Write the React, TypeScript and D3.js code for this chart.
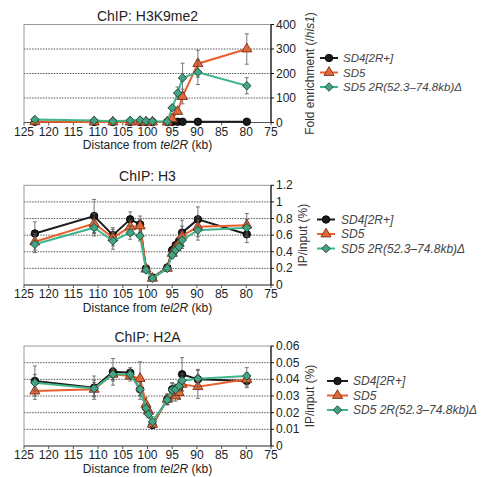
import React from "react";
import * as d3 from "d3";

// ---------- DATA ----------
const seriesNames = ["SD4[2R+]", "SD5", "SD5 2R(52.3–74.8kb)Δ"];
const xTicks = [125, 120, 115, 110, 105, 100, 95, 90, 85, 80, 75];

// Panel 1: H3K9me2
const kbK9 = [122.8, 110.8, 107, 103.5, 101.5, 100.3, 99, 96, 95, 93.9, 92.9, 89.8, 79.9];
const k9Black = [3, 2, 2, 2, 2, 2, 2, 2, 2, 3, 3, 3, 3];
const k9Orange = [3, 2, 2, 2, 2, 2, 2, 2, 15, 45, 106, 240, 300];
const k9Green = [12, 8, 5, 8, 10, 6, 5, 4, 60, 120, 182, 205, 150];
const k9BlackErr = [2, 2, 2, 2, 2, 2, 2, 2, 2, 2, 2, 2, 2];
const k9OrangeErr = [3, 2, 2, 2, 2, 2, 2, 2, 5, 10, 30, 55, 62];
const k9GreenErr = [5, 3, 3, 3, 3, 3, 3, 2, 10, 25, 60, 50, 33];
const k9Ticks = [0, 100, 200, 300, 400];

// Panel 2: H3
const kbH3 = [122.8, 110.8, 107, 103.5, 101.5, 100.3, 99, 96, 95, 94.3, 93.6, 93, 89.8, 79.9];
const h3Black = [0.62, 0.83, 0.6, 0.79, 0.73, 0.2, 0.09, 0.21, 0.42, 0.48, 0.53, 0.63, 0.79, 0.61];
const h3Orange = [0.52, 0.74, 0.57, 0.7, 0.71, 0.19, 0.08, 0.2, 0.38, 0.45, 0.5, 0.59, 0.7, 0.72];
const h3Green = [0.49, 0.69, 0.53, 0.63, 0.59, 0.18, 0.08, 0.2, 0.36, 0.42, 0.46, 0.54, 0.66, 0.69];
const h3BlackErr = [0.14, 0.2, 0.09, 0.09, 0.1, 0.03, 0.02, 0.03, 0.04, 0.04, 0.05, 0.15, 0.15, 0.1];
const h3OrangeErr = [0.1, 0.12, 0.1, 0.08, 0.08, 0.02, 0.02, 0.03, 0.04, 0.04, 0.05, 0.12, 0.12, 0.14];
const h3GreenErr = [0.1, 0.1, 0.1, 0.08, 0.06, 0.02, 0.02, 0.03, 0.04, 0.04, 0.04, 0.1, 0.12, 0.1];
const h3Ticks = [0, 0.2, 0.4, 0.6, 0.8, 1, 1.2];

// Panel 3: H2A
const kbH2A = [122.8, 110.8, 107, 103.5, 101.5, 100.3, 99.8, 99, 96, 95, 94.3, 93.6, 93, 89.8, 79.9];
const h2aBlack = [0.039, 0.035, 0.0445, 0.044, 0.034, 0.023, 0.02, 0.0126, 0.028, 0.034, 0.034, 0.035, 0.043, 0.04, 0.039];
const h2aOrange = [0.033, 0.034, 0.043, 0.042, 0.0405, 0.025, 0.021, 0.013, 0.028, 0.031, 0.03, 0.032, 0.037, 0.0356, 0.04];
const h2aGreen = [0.038, 0.0345, 0.043, 0.043, 0.034, 0.0226, 0.019, 0.0146, 0.0276, 0.0336, 0.034, 0.036, 0.0392, 0.0404, 0.042];
const h2aBlackErr = [0.009, 0.007, 0.008, 0.003, 0.006, 0.003, 0.002, 0.002, 0.003, 0.004, 0.003, 0.003, 0.01, 0.006, 0.004];
const h2aOrangeErr = [0.005, 0.004, 0.004, 0.003, 0.01, 0.004, 0.002, 0.002, 0.003, 0.004, 0.003, 0.004, 0.004, 0.007, 0.004];
const h2aGreenErr = [0.005, 0.005, 0.003, 0.003, 0.004, 0.003, 0.002, 0.003, 0.003, 0.004, 0.003, 0.003, 0.004, 0.005, 0.005];
const h2aTicks = [0, 0.01, 0.02, 0.03, 0.04, 0.05, 0.06];

// ---------- STYLE ----------
const FONT = "'Liberation Sans', Arial, sans-serif";
const styles = [
  { line: "#1c1c1c", fill: "#1c1c1c", stroke: "#000", shape: "circle" },
  { line: "#e8602c", fill: "#e0693a", stroke: "#7a3015", shape: "triangle" },
  { line: "#3fb58c", fill: "#45a283", stroke: "#1d4a3a", shape: "diamond" },
];

function symbolPath(shape: string) {
  if (shape === "circle") return d3.symbol(d3.symbolCircle, 44)()!;
  if (shape === "triangle") return d3.symbol(d3.symbolTriangle, 44)()!;
  return d3.symbol(d3.symbolSquare, 36)()!;
}

function Marker({ x, y, i }: { x: number; y: number; i: number }) {
  const s = styles[i];
  const rot = s.shape === "diamond" ? " rotate(45)" : "";
  return (
    <path
      d={symbolPath(s.shape)}
      transform={`translate(${x},${y})${rot}`}
      fill={s.fill}
      stroke={s.stroke}
      strokeWidth={0.9}
    />
  );
}

type PanelProps = {
  title: string;
  top: number;
  bottom: number;
  kb: number[];
  values: number[][];
  errs: number[][];
  ticks: number[];
  yLabel: React.ReactNode;
  yLabelX: number;
  legendY: number;
  legendX0: number;
  legendX1: number;
  legendTextX: number;
  legendFont: number;
  fmt: (v: number) => string;
};

const X0 = 24;
const X1 = 271;

function Panel(p: PanelProps) {
  const x = d3.scaleLinear().domain([125, 75]).range([X0, X1]);
  const yMax = p.ticks[p.ticks.length - 1];
  const y = d3.scaleLinear().domain([0, yMax]).range([p.bottom, p.top]);
  const line = d3
    .line<number>()
    .x((_, j) => x(p.kb[j]))
    .y((v) => y(v));
  const yMid = (p.top + p.bottom) / 2;
  return (
    <g>
      <text x={(X0 + X1) / 2} y={p.top - 4} textAnchor="middle" fontSize={14} fontFamily={FONT} fill="#222">
        {p.title}
      </text>
      {/* grid */}
      {p.ticks.slice(1, -1).map((t) => (
        <line key={t} x1={X0} x2={X1} y1={y(t)} y2={y(t)} stroke="#444" strokeWidth={0.9} strokeDasharray="1.5,1.2" />
      ))}
      {/* frame */}
      <rect x={X0} y={p.top} width={X1 - X0} height={p.bottom - p.top} fill="none" stroke="#999" strokeWidth={1} />
      <line x1={X0} x2={X1} y1={p.bottom} y2={p.bottom} stroke="#555" strokeWidth={1} />
      <line x1={X1} x2={X1} y1={p.top} y2={p.bottom} stroke="#111" strokeWidth={1.2} />
      {/* x ticks */}
      {xTicks.map((t) => (
        <g key={t}>
          <line x1={x(t)} x2={x(t)} y1={p.bottom} y2={p.bottom + 3} stroke="#555" />
          <text x={x(t)} y={p.bottom + 13} textAnchor="middle" fontSize={12} fontFamily={FONT} fill="#222">
            {t}
          </text>
        </g>
      ))}
      <text x={(X0 + X1) / 2} y={p.bottom + 26.5} textAnchor="middle" fontSize={12} fontFamily={FONT} fill="#222">
        Distance from <tspan fontStyle="italic">tel2R</tspan> (kb)
      </text>
      {/* y ticks */}
      {p.ticks.map((t) => (
        <g key={t}>
          <line x1={X1} x2={X1 + 3} y1={y(t)} y2={y(t)} stroke="#111" />
          <text x={X1 + 5} y={y(t) + 4} fontSize={12} fontFamily={FONT} fill="#222">
            {p.fmt(t)}
          </text>
        </g>
      ))}
      <text
        transform={`translate(${p.yLabelX},${yMid}) rotate(-90)`}
        textAnchor="middle"
        fontSize={12}
        fontFamily={FONT}
        fill="#333"
      >
        {p.yLabel}
      </text>
      {/* series */}
      {p.values.map((vals, i) => (
        <g key={i}>
          {vals.map((v, j) => {
            const e = p.errs[i][j];
            const cx = x(p.kb[j]);
            return (
              <g key={j} stroke="#555" strokeWidth={0.8}>
                <line x1={cx} x2={cx} y1={y(v - e)} y2={y(v + e)} />
                <line x1={cx - 2} x2={cx + 2} y1={y(v - e)} y2={y(v - e)} />
                <line x1={cx - 2} x2={cx + 2} y1={y(v + e)} y2={y(v + e)} />
              </g>
            );
          })}
          <path d={line(vals)!} fill="none" stroke={styles[i].line} strokeWidth={2} />
          {vals.map((v, j) => (
            <Marker key={j} x={x(p.kb[j])} y={y(v)} i={i} />
          ))}
        </g>
      ))}
      {/* legend */}
      {seriesNames.map((name, i) => {
        const ly = p.legendY + i * 14.5;
        return (
          <g key={name}>
            <line x1={p.legendX0} x2={p.legendX1} y1={ly} y2={ly} stroke={styles[i].line} strokeWidth={2} />
            <Marker x={(p.legendX0 + p.legendX1) / 2} y={ly} i={i} />
            <text x={p.legendTextX} y={ly + 4} fontSize={p.legendFont} fontStyle="italic" fontFamily={FONT} fill="#444">
              {name}
            </text>
          </g>
        );
      })}
    </g>
  );
}

export default function App() {
  return (
    <svg
      width={481}
      height={477}
      style={{ position: "absolute", left: 0, top: 0, background: "#fff" }}
    >
      <rect width={481} height={477} fill="#fff" />
      <Panel
        title="ChIP: H3K9me2"
        top={24.5}
        bottom={122.5}
        kb={kbK9}
        values={[k9Black, k9Orange, k9Green]}
        errs={[k9BlackErr, k9OrangeErr, k9GreenErr]}
        ticks={k9Ticks}
        yLabel={
          <>
            Fold enrichment (/<tspan fontStyle="italic">his1</tspan>)
          </>
        }
        yLabelX={314}
        legendY={58}
        legendX0={320}
        legendX1={338}
        legendTextX={343}
        legendFont={11.5}
        fmt={(v) => String(v)}
      />
      <Panel
        title="ChIP: H3"
        top={185.3}
        bottom={285}
        kb={kbH3}
        values={[h3Black, h3Orange, h3Green]}
        errs={[h3BlackErr, h3OrangeErr, h3GreenErr]}
        ticks={h3Ticks}
        yLabel="IP/input (%)"
        yLabelX={307}
        legendY={219.5}
        legendX0={317}
        legendX1={335}
        legendTextX={341}
        legendFont={12}
        fmt={(v) => String(+v.toFixed(1))}
      />
      <Panel
        title="ChIP: H2A"
        top={346}
        bottom={446}
        kb={kbH2A}
        values={[h2aBlack, h2aOrange, h2aGreen]}
        errs={[h2aBlackErr, h2aOrangeErr, h2aGreenErr]}
        ticks={h2aTicks}
        yLabel="IP/input (%)"
        yLabelX={314}
        legendY={381}
        legendX0={327}
        legendX1={348}
        legendTextX={353}
        legendFont={12}
        fmt={(v) => String(+v.toFixed(2))}
      />
    </svg>
  );
}
